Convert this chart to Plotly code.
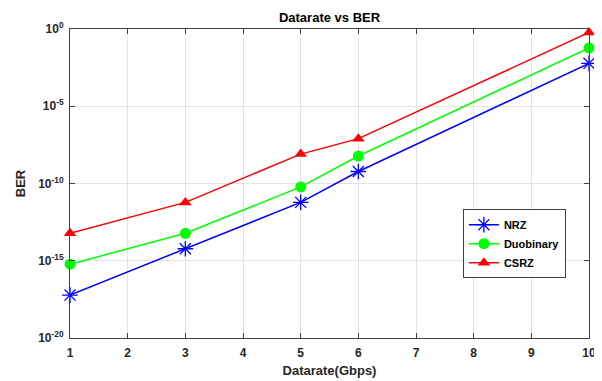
import plotly.graph_objects as go

datarate = [1, 3, 5, 6, 10]
ber_nrz = [6e-18, 6e-15, 6e-12, 6e-10, 6e-3]
ber_duobinary = [6e-16, 6e-14, 6e-11, 6e-9, 6e-2]
ber_csrz = [6e-14, 6e-12, 8e-9, 8e-8, 6e-1]
series_names = ["NRZ", "Duobinary", "CSRZ"]
y_tick_vals = [1e-20, 1e-15, 1e-10, 1e-5, 1e0]
y_tick_text = ["10<sup>-20</sup>", "10<sup>-15</sup>", "10<sup>-10</sup>", "10<sup>-5</sup>", "10<sup>0</sup>"]
x_tick_vals = [1, 2, 3, 4, 5, 6, 7, 8, 9, 10]

font = "Liberation Sans, Arial, sans-serif"
fig = go.Figure()
styles = [
    (ber_nrz, "#0000FF", dict(symbol="asterisk-open", size=13, line=dict(width=1.3, color="#0000FF"))),
    (ber_duobinary, "#00FF00", dict(symbol="circle", size=11)),
    (ber_csrz, "#FF0000", dict(symbol="triangle-up", size=11)),
]
for name, (vals, col, mk) in zip(series_names, styles):
    mk = dict(mk)
    mk.setdefault("color", col)
    fig.add_trace(go.Scatter(x=datarate, y=vals, name=name, mode="lines+markers",
                             line=dict(color=col, width=1.5), marker=mk, cliponaxis=False))

axis_common = dict(showline=True, linecolor="#404040", linewidth=1, mirror="allticks",
                   ticks="inside", ticklen=5, tickcolor="#404040", automargin=False,
                   showgrid=True, gridcolor="#e3e3e3", gridwidth=1, zeroline=False,
                   tickfont=dict(family=font, size=12, color="#262626", weight="bold"))
fig.update_xaxes(range=[1, 10], tickvals=x_tick_vals, ticklabelstandoff=4,
                 title=dict(text="Datarate(Gbps)", font=dict(family=font, size=13, color="#262626", weight="bold"), standoff=6),
                 **axis_common)
fig.update_yaxes(type="log", range=[-20, 0], tickvals=y_tick_vals, ticktext=y_tick_text, ticklabelstandoff=3,
                 title=dict(text="BER", font=dict(family=font, size=13, color="#262626", weight="bold"), standoff=9),
                 **axis_common)
fig.update_layout(
    width=594, height=373,
    margin=dict(l=62, r=13, t=21, b=43),
    paper_bgcolor="white", plot_bgcolor="white",
    title=dict(text="Datarate vs BER", x=(62 + (594 - 62 - 13) / 2) / 594, xanchor="center", y=0.976, yanchor="middle",
               font=dict(family=font, size=13, color="#000000", weight="bold"), automargin=False),
    legend=dict(x=0.757, y=0.417, xanchor="left", yanchor="top",
                bgcolor="white", bordercolor="#404040", borderwidth=1,
                font=dict(family=font, size=11, color="#000000", weight="bold"),
                tracegroupgap=0, itemwidth=30),
    showlegend=True,
)
fig.write_html("out.html")
